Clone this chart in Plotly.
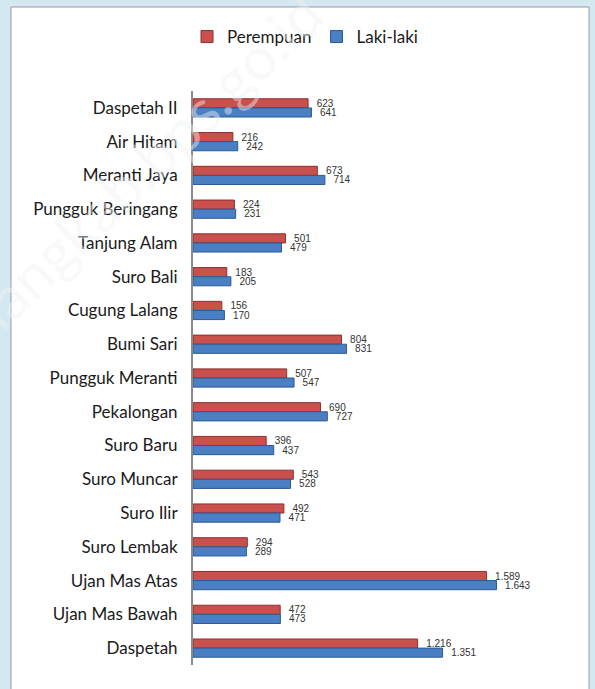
import plotly.graph_objects as go

categories = ["Daspetah II", "Air Hitam", "Meranti Jaya", "Pungguk Beringang", "Tanjung Alam",
              "Suro Bali", "Cugung Lalang", "Bumi Sari", "Pungguk Meranti", "Pekalongan",
              "Suro Baru", "Suro Muncar", "Suro Ilir", "Suro Lembak", "Ujan Mas Atas",
              "Ujan Mas Bawah", "Daspetah"]
perempuan = [623, 216, 673, 224, 501, 183, 156, 804, 507, 690, 396, 543, 492, 294, 1589, 472, 1216]
laki_laki = [641, 242, 714, 231, 479, 205, 170, 831, 547, 727, 437, 528, 471, 289, 1643, 473, 1351]


def fmt(v):
    return f"{v:,}".replace(",", ".")


W, H = 595, 689
L, R, T, B = 193, 51, 91, 24
pw = W - L - R
ph = H - T - B

label_font = dict(size=10, color="#333333", family="Liberation Sans Narrow, Liberation Sans")

fig = go.Figure()
fig.add_trace(go.Bar(
    y=categories, x=perempuan, orientation="h", name="Perempuan",
    marker=dict(color="#C9504D", line=dict(color="#8E2F2C", width=1)),
    text=[fmt(v) for v in perempuan], texttemplate="  %{text}",
    textposition="outside", constraintext="none",
    textfont=label_font, cliponaxis=False,
))
fig.add_trace(go.Bar(
    y=categories, x=laki_laki, orientation="h", name="Laki-laki",
    marker=dict(color="#4A7FC4", line=dict(color="#2C5A92", width=1)),
    text=[fmt(v) for v in laki_laki], texttemplate="  %{text}",
    textposition="outside", constraintext="none",
    textfont=label_font, cliponaxis=False,
))


def px_x(p):
    return (p - L) / pw


def px_y(p):
    return 1 - (p - T) / ph


fig.update_layout(
    width=W, height=H,
    margin=dict(l=L, r=R, t=T, b=B, autoexpand=False),
    paper_bgcolor="#D3E8F0",
    plot_bgcolor="rgba(0,0,0,0)",
    barmode="group", bargap=0.46, bargroupgap=0.0,
    font=dict(family="Lato, Open Sans, sans-serif", color="#1a1a1a"),
    showlegend=True,
    legend=dict(orientation="h", xref="container", yref="container",
                x=305 / W, xanchor="center", y=1 - 37 / H, yanchor="middle",
                font=dict(size=17, color="#1a1a1a"), bgcolor="rgba(0,0,0,0)",
                itemwidth=30, traceorder="normal"),
    xaxis=dict(range=[0, 1900], showgrid=False, zeroline=False, showticklabels=False,
               showline=False, ticks="", automargin=False),
    yaxis=dict(autorange="reversed", showgrid=False, showline=True, linecolor="#8a8a8a",
               linewidth=2, ticks="", tickfont=dict(size=17, color="#1a1a1a"),
               ticklabelstandoff=10, automargin=False),
    shapes=[
        dict(type="rect", xref="paper", yref="paper", layer="below",
             x0=px_x(11), x1=px_x(589), y0=px_y(7), y1=px_y(700),
             fillcolor="white", line=dict(color="#9a9a9a", width=1)),
    ],
    annotations=[
        dict(text="kepahiangkab.bps.go.id", xref="paper", yref="paper",
             x=px_x(92), y=px_y(215), xanchor="center", yanchor="middle",
             showarrow=False, textangle=-44,
             font=dict(size=60, color="rgba(240,242,244,0.45)", family="Lato"))
    ],
)

fig.write_html("out.html", config={"displayModeBar": False},
               post_script="document.body.style.margin='0px';")
